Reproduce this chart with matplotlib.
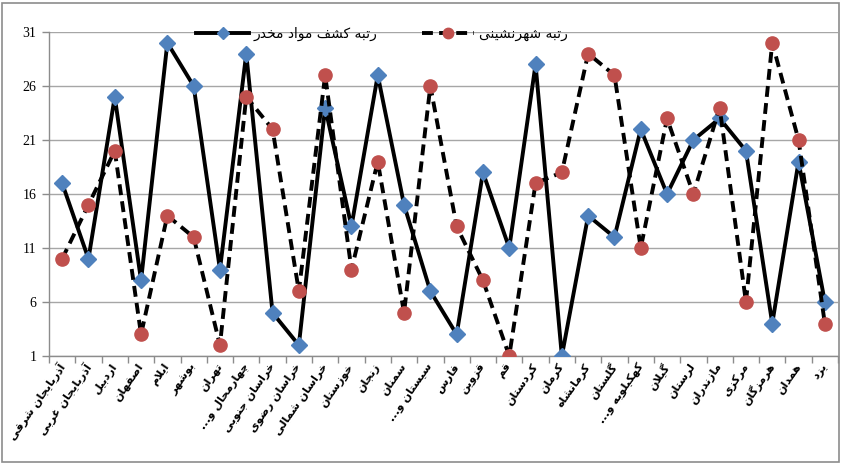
import numpy as np
import matplotlib
matplotlib.use("Agg")
import matplotlib.pyplot as plt
from matplotlib.lines import Line2D
from matplotlib.patches import Rectangle

# ---------------- data ----------------
provinces = ["آذربایجان شرقی", "آذربایجان غربی", "اردبیل", "اصفهان", "ایلام", "بوشهر",
             "تهران", "چهارمحال و...", "خراسان جنوبی", "خراسان رضوی", "خراسان شمالی",
             "خوزستان", "زنجان", "سمنان", "سیستان و...", "فارس", "قزوین", "قم",
             "کردستان", "کرمان", "کرمانشاه", "گلستان", "کهکیلویه و...", "گیلان",
             "لرستان", "مازندران", "مرکزی", "هرمزگان", "همدان", "یزد"]
drug_rank = [17, 10, 25, 8, 30, 26, 9, 29, 5, 2, 24, 13, 27, 15, 7, 3, 18, 11, 28, 1,
             14, 12, 22, 16, 21, 23, 20, 4, 19, 6]
urban_rank = [10, 15, 20, 3, 14, 12, 2, 25, 22, 7, 27, 9, 19, 5, 26, 13, 8, 1, 17, 18,
              29, 27, 11, 23, 16, 24, 6, 30, 21, 4]
series_names = ["رتبه کشف مواد مخدر", "رتبه شهرنشینی"]
y_ticks = [1, 6, 11, 16, 21, 26, 31]

# ------------- simple Persian shaping (presentation forms + RTL order) -------------
DUAL = {
    '\u0628': ('\uFE8F', '\uFE90', '\uFE91', '\uFE92'),
    '\u067E': ('\uFB56', '\uFB57', '\uFB58', '\uFB59'),
    '\u062A': ('\uFE95', '\uFE96', '\uFE97', '\uFE98'),
    '\u062B': ('\uFE99', '\uFE9A', '\uFE9B', '\uFE9C'),
    '\u062C': ('\uFE9D', '\uFE9E', '\uFE9F', '\uFEA0'),
    '\u0686': ('\uFB7A', '\uFB7B', '\uFB7C', '\uFB7D'),
    '\u062D': ('\uFEA1', '\uFEA2', '\uFEA3', '\uFEA4'),
    '\u062E': ('\uFEA5', '\uFEA6', '\uFEA7', '\uFEA8'),
    '\u0633': ('\uFEB1', '\uFEB2', '\uFEB3', '\uFEB4'),
    '\u0634': ('\uFEB5', '\uFEB6', '\uFEB7', '\uFEB8'),
    '\u0635': ('\uFEB9', '\uFEBA', '\uFEBB', '\uFEBC'),
    '\u0636': ('\uFEBD', '\uFEBE', '\uFEBF', '\uFEC0'),
    '\u0637': ('\uFEC1', '\uFEC2', '\uFEC3', '\uFEC4'),
    '\u0638': ('\uFEC5', '\uFEC6', '\uFEC7', '\uFEC8'),
    '\u0639': ('\uFEC9', '\uFECA', '\uFECB', '\uFECC'),
    '\u063A': ('\uFECD', '\uFECE', '\uFECF', '\uFED0'),
    '\u0641': ('\uFED1', '\uFED2', '\uFED3', '\uFED4'),
    '\u0642': ('\uFED5', '\uFED6', '\uFED7', '\uFED8'),
    '\u06A9': ('\uFB8E', '\uFB8F', '\uFB90', '\uFB91'),
    '\u0643': ('\uFED9', '\uFEDA', '\uFEDB', '\uFEDC'),
    '\u06AF': ('\uFB92', '\uFB93', '\uFB94', '\uFB95'),
    '\u0644': ('\uFEDD', '\uFEDE', '\uFEDF', '\uFEE0'),
    '\u0645': ('\uFEE1', '\uFEE2', '\uFEE3', '\uFEE4'),
    '\u0646': ('\uFEE5', '\uFEE6', '\uFEE7', '\uFEE8'),
    '\u0647': ('\uFEE9', '\uFEEA', '\uFEEB', '\uFEEC'),
    '\u06CC': ('\uFBFC', '\uFBFD', '\uFBFE', '\uFBFF'),
    '\u064A': ('\uFEF1', '\uFEF2', '\uFEF3', '\uFEF4'),
    '\u0626': ('\uFE89', '\uFE8A', '\uFE8B', '\uFE8C'),
}
RIGHT = {
    '\u0627': ('\uFE8D', '\uFE8E'),
    '\u0622': ('\uFE81', '\uFE82'),
    '\u062F': ('\uFEA9', '\uFEAA'),
    '\u0630': ('\uFEAB', '\uFEAC'),
    '\u0631': ('\uFEAD', '\uFEAE'),
    '\u0632': ('\uFEAF', '\uFEB0'),
    '\u0698': ('\uFB8A', '\uFB8B'),
    '\u0648': ('\uFEED', '\uFEEE'),
}
LAMALEF = {'\u0627': ('\uFEFB', '\uFEFC'), '\u0622': ('\uFEF5', '\uFEF6')}


def shape(text):
    out = []
    n = len(text)
    i = 0
    while i < n:
        c = text[i]
        prev = text[i - 1] if i > 0 else ''
        joins_prev = prev in DUAL and (c in DUAL or c in RIGHT)
        nxt = text[i + 1] if i + 1 < n else ''
        if c == '\u0644' and nxt in LAMALEF:
            out.append(LAMALEF[nxt][1 if joins_prev else 0])
            i += 2
            continue
        if c in DUAL:
            joins_next = nxt in DUAL or nxt in RIGHT
            iso, fin, ini, med = DUAL[c]
            if joins_prev and joins_next:
                out.append(med)
            elif joins_prev:
                out.append(fin)
            elif joins_next:
                out.append(ini)
            else:
                out.append(iso)
        elif c in RIGHT:
            out.append(RIGHT[c][1] if joins_prev else RIGHT[c][0])
        else:
            out.append(c)
        i += 1
    return ''.join(reversed(out))


# ---------------- figure ----------------
W, H = 841, 465
fig = plt.figure(figsize=(W / 100, H / 100), dpi=100)
fig.patch.set_facecolor('white')
fig.add_artist(Rectangle((2 / W, 3 / H), (W - 4) / W, (H - 6) / H, transform=fig.transFigure,
                         fill=False, edgecolor='#8c8c8c', linewidth=1.2))

left, right, top, bottom = 49, 838, 32, 356
ax = fig.add_axes([left / W, 1 - bottom / H, (right - left) / W, (bottom - top) / H])

x = np.arange(len(provinces))
blue = '#4F81BD'
red = '#C0504D'
dash = (0, (2.8, 1.6))

ax.plot(x, drug_rank, color='black', linewidth=2.8, marker='D', markersize=8.5,
        markerfacecolor=blue, markeredgecolor=blue, zorder=3)
ax.plot(x, urban_rank, color='black', linewidth=2.8, linestyle=dash, marker='o',
        markersize=9.5, markerfacecolor=red, markeredgecolor=red, zorder=3)

ax.set_xlim(-0.5, len(provinces) - 0.5)
ax.set_ylim(1, 31)
ax.set_yticks(y_ticks)
ax.set_yticklabels([str(v) for v in y_ticks], fontfamily='Liberation Serif', fontsize=10)
ax.yaxis.grid(True, color='#a6a6a6', linewidth=1.0)
ax.set_axisbelow(True)

ax.set_xticks(x)
ax.set_xticks(np.arange(-0.5, len(provinces)), minor=True)
ax.tick_params(axis='x', which='major', length=0, pad=6)
ax.tick_params(axis='x', which='minor', length=5, color='#8c8c8c', width=1)
ax.tick_params(axis='y', length=5, color='#8c8c8c', width=1, pad=4)
ax.set_xticklabels([shape(p) for p in provinces], rotation=55, ha='right', va='center',
                   rotation_mode='anchor', fontsize=8, fontfamily='DejaVu Sans',
                   fontweight='bold')

for s in ['top', 'right']:
    ax.spines[s].set_visible(False)
for s in ['left', 'bottom']:
    ax.spines[s].set_color('#8c8c8c')
    ax.spines[s].set_linewidth(1.0)

handles = [
    Line2D([], [], color='black', linewidth=2.8, marker='D', markersize=6,
           markerfacecolor=blue, markeredgecolor=blue),
    Line2D([], [], color='black', linewidth=2.8, linestyle=dash, marker='o',
           markersize=7.5, markerfacecolor=red, markeredgecolor=red),
]
fig.legend(handles, [shape(s) for s in series_names], loc='center',
           bbox_to_anchor=(382 / W, 1 - 34 / H), ncol=2, frameon=False,
           prop={'family': 'DejaVu Sans', 'size': 10}, handlelength=3.8,
           handletextpad=0.3, columnspacing=3.2, markerscale=1.0)

fig.savefig('out.png', dpi=100)
